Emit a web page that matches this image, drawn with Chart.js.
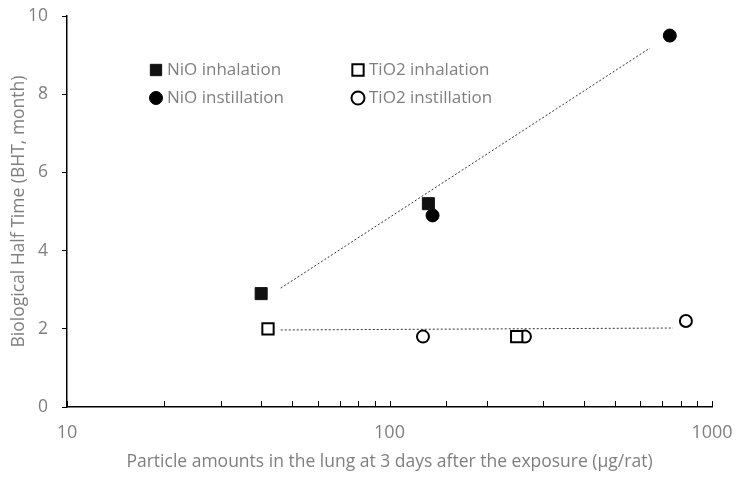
<!DOCTYPE html>
<html>
<head>
<meta charset="utf-8">
<script src="https://cdn.jsdelivr.net/npm/chart.js@4/dist/chart.umd.min.js"></script>
<style>
  html, body { margin: 0; padding: 0; background: #fff; }
  #wrap { width: 739px; height: 481px; }
</style>
</head>
<body>
<div id="wrap"><canvas id="myChart" width="739" height="481"></canvas></div>
<script>
// values
var nioInhalationX = [40, 132];
var nioInhalationY = [2.9, 5.2];
var nioInstillationX = [136, 740];
var nioInstillationY = [4.9, 9.5];
var tio2InhalationX = [42, 248];
var tio2InhalationY = [2.0, 1.8];
var tio2InstillationX = [127, 263, 830];
var tio2InstillationY = [1.8, 1.8, 2.2];
// trend line ends
var nioTrendX = [46, 642];
var nioTrendY = [3.04, 9.18];
var tio2TrendX = [46, 757];
var tio2TrendY = [1.97, 2.02];
var xTickLabels = [10, 100, 1000];
var yTicks = [0, 2, 4, 6, 8, 10];

function pts(xs, ys) {
    return xs.map(function (x, i) { return { x: x, y: ys[i] }; });
}

var grey = "#7f7f7f";
var font = "'Open Sans', sans-serif";

// legend drawn inside the plot, two columns
var legendBox = {
    id: "legendBox",
    afterDraw: function (chart) {
        var ctx = chart.ctx;
        var spots = [[156, 70], [156, 98], [358, 70], [358, 98]];
        ctx.save();
        ctx.font = "17px " + font;
        ctx.textBaseline = "middle";
        for (var i = 0; i < 4; i++) {
            var ds = chart.data.datasets[i];
            var p = spots[i];
            ctx.fillStyle = ds.backgroundColor;
            ctx.strokeStyle = ds.borderColor;
            ctx.lineWidth = ds.borderWidth;
            Chart.helpers.drawPoint(ctx, { pointStyle: ds.pointStyle, radius: ds.pointStyle === "rect" ? 8 : 6.5, borderWidth: ds.borderWidth }, p[0], p[1]);
            ctx.fillStyle = grey;
            ctx.fillText(ds.label, p[0] + 11, p[1]);
        }
        ctx.restore();
    }
};

// x axis tick marks point into the plot
var innerTicks = {
    id: "innerTicks",
    afterDraw: function (chart) {
        var ctx = chart.ctx;
        var sx = chart.scales.x;
        var bottom = chart.chartArea.bottom;
        ctx.save();
        ctx.strokeStyle = "#000";
        ctx.lineWidth = 1;
        sx.ticks.forEach(function (t) {
            var px = Math.round(sx.getPixelForValue(t.value)) + 0.5;
            ctx.beginPath();
            ctx.moveTo(px, bottom);
            ctx.lineTo(px, bottom - 6);
            ctx.stroke();
        });
        ctx.restore();
    }
};

var ctx = document.getElementById("myChart").getContext("2d");
var myChart = new Chart(ctx, {
    type: "scatter",
    data: {
        datasets: [
            {
                label: "NiO inhalation",
                data: pts(nioInhalationX, nioInhalationY),
                pointStyle: "rect",
                pointRadius: 8.5,
                backgroundColor: "#111",
                borderColor: "#111",
                borderWidth: 1,
            },
            {
                label: "NiO instillation",
                data: pts(nioInstillationX, nioInstillationY),
                pointStyle: "circle",
                pointRadius: 6.5,
                backgroundColor: "#000",
                borderColor: "#000",
                borderWidth: 1,
            },
            {
                label: "TiO2 inhalation",
                data: pts(tio2InhalationX, tio2InhalationY),
                pointStyle: "rect",
                pointRadius: 8,
                backgroundColor: "#fff",
                borderColor: "#000",
                borderWidth: 2,
            },
            {
                label: "TiO2 instillation",
                data: pts(tio2InstillationX, tio2InstillationY),
                pointStyle: "circle",
                pointRadius: 6,
                backgroundColor: "#fff",
                borderColor: "#000",
                borderWidth: 2,
            },
            {
                label: "NiO trend",
                data: pts(nioTrendX, nioTrendY),
                showLine: true,
                pointRadius: 0,
                borderColor: "#333",
                borderWidth: 1,
                borderDash: [2, 2],
                order: 10,
            },
            {
                label: "TiO2 trend",
                data: pts(tio2TrendX, tio2TrendY),
                showLine: true,
                pointRadius: 0,
                borderColor: "#333",
                borderWidth: 1,
                borderDash: [2, 2],
                order: 10,
            },
        ],
    },
    options: {
        responsive: false,
        animation: false,
        layout: { padding: { top: 16, right: 27, left: 6, bottom: 6 } },
        plugins: {
            legend: { display: false },
            tooltip: { enabled: false },
        },
        scales: {
            x: {
                type: "logarithmic",
                min: 10,
                max: 1000,
                grid: { display: false, drawTicks: false },
                border: { display: true, color: "#000", width: 1.5 },
                afterFit: function (scale) {
                    scale.height = 68;
                    scale.paddingLeft = 0;
                    scale.paddingRight = 0;
                },
                ticks: {
                    autoSkip: false,
                    maxRotation: 0,
                    padding: 15,
                    color: grey,
                    font: { family: font, size: 18 },
                    callback: function (v) {
                        return xTickLabels.indexOf(v) >= 0 ? String(v) : "";
                    },
                },
                title: {
                    display: true,
                    text: "Particle amounts in the lung at 3 days after the exposure (μg/rat)",
                    color: grey,
                    font: { family: font, size: 17.5 },
                    padding: { top: 2, bottom: 2.5 },
                },
            },
            y: {
                min: 0,
                max: 10,
                afterBuildTicks: function (scale) {
                    scale.ticks = yTicks.map(function (v) { return { value: v }; });
                },
                afterFit: function (scale) {
                    scale.width = 61;
                    scale.paddingTop = 0;
                    scale.paddingBottom = 0;
                },
                grid: { display: true, drawOnChartArea: false, drawTicks: true, tickLength: 5, color: "#000" },
                border: { display: true, color: "#000", width: 1.5 },
                ticks: {
                    padding: 14,
                    color: grey,
                    font: { family: font, size: 17.5 },
                },
                title: {
                    display: true,
                    text: "Biological Half Time (BHT, month)",
                    color: grey,
                    font: { family: font, size: 17.5 },
                    padding: { top: 3, bottom: 0 },
                },
            },
        },
    },
    plugins: [legendBox, innerTicks],
});
</script>
</body>
</html>
